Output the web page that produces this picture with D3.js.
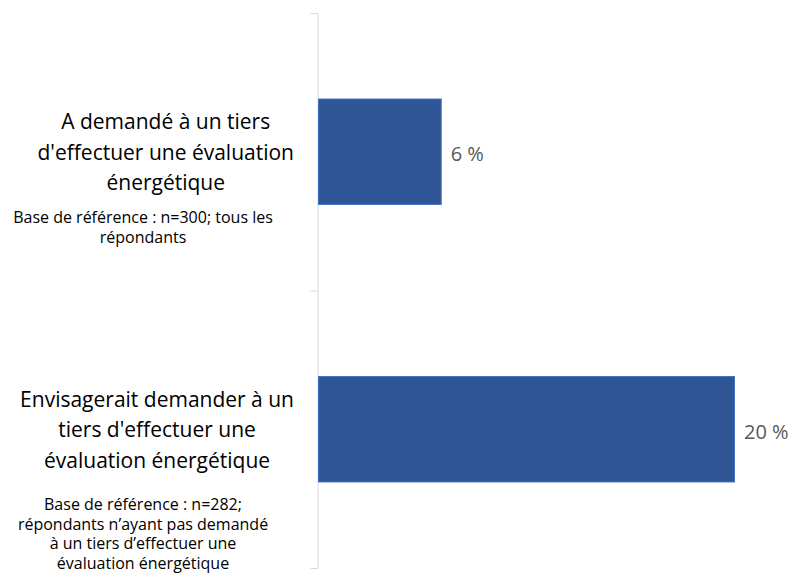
<!DOCTYPE html>
<html>
<head>
<meta charset="utf-8">
<script src="https://cdn.jsdelivr.net/npm/d3@7"></script>
<style>
  body { margin: 0; background: #fff; }
  svg { display: block; font-family: "Open Sans", "Noto Sans", sans-serif; }
</style>
</head>
<body>
<div id="chart"></div>
<script>
// data
var categories = ["tiers", "envisage"];
var values     = [5.9, 20];
var labelLines = [
  ["A demandé à un tiers", "d'effectuer une évaluation", "énergétique"],
  ["Envisagerait demander à un", "tiers d'effectuer une", "évaluation énergétique"]
];
var baseLines = [
  ["Base de référence : n=300; tous les", "répondants"],
  ["Base de référence : n=282;", "répondants n’ayant pas demandé", "à un tiers d’effectuer une", "évaluation énergétique"]
];

// layout
var w = 793, h = 582;
var x0 = 318, yTop = 13, yBottom = 568;
var subOffset = [71, 80.5];   // first base line below band centre

var svg = d3.select("#chart").append("svg")
    .attr("width", w)
    .attr("height", h);

var y = d3.scaleBand()
    .domain(categories)
    .range([yTop, yBottom])
    .paddingInner(0.62)
    .paddingOuter(0.31);

var x = d3.scaleLinear()
    .domain([0, 20])
    .range([x0, 734]);

// axis with ticks between categories
var yEdge = d3.scaleLinear().domain([0, categories.length]).range([yTop, yBottom]);
var axis = svg.append("g")
    .attr("transform", "translate(" + (x0 - 0.5) + ",0)")
    .call(d3.axisLeft(yEdge).tickValues(d3.range(categories.length + 1))
      .tickSize(7).tickSizeOuter(0).tickFormat(""));
axis.selectAll("path, line").attr("stroke", "#d9d9d9");

// bars
svg.selectAll("rect.bar").data(values).enter().append("rect")
   .attr("class", "bar")
   .attr("x", x(0) + 0.5)
   .attr("y", function(d, i) { return y(categories[i]); })
   .attr("width", function(d) { return x(d) - x(0); })
   .attr("height", y.bandwidth())
   .attr("fill", "#2f5597")
   .attr("stroke", "#4472c4")
   .attr("stroke-width", 1);

// value labels
svg.selectAll("text.val").data(values).enter().append("text")
   .attr("class", "val")
   .attr("x", function(d) { return x(d) + 10; })
   .attr("y", function(d, i) { return y(categories[i]) + y.bandwidth() / 2 + 9.5; })
   .attr("fill", "#595959")
   .style("font-size", "20px")
   .text(function(d) { return Math.round(d) + " %"; });

// category labels
categories.forEach(function(c, i) {
  var cy = y(c) + y.bandwidth() / 2;
  var g = svg.append("g");
  var t = g.append("text")
      .attr("fill", "#000")
      .attr("text-anchor", "middle")
      .style("font-size", "21px");
  t.selectAll("tspan").data(labelLines[i]).enter().append("tspan")
   .attr("x", 0)
   .attr("y", function(d, j) { return cy + 8 + (j - 1) * 30.5; })
   .text(function(d) { return d; });
  // centre block so widest line ends 24px left of the axis
  var maxW = d3.max(t.selectAll("tspan").nodes(), function(n) { return n.getComputedTextLength(); });
  t.attr("transform", "translate(" + (x0 - 24 - maxW / 2) + ",0)");

  var s = g.append("text")
      .attr("fill", "#000")
      .attr("text-anchor", "middle")
      .style("font-size", "16px");
  s.selectAll("tspan").data(baseLines[i]).enter().append("tspan")
   .attr("x", 143)
   .attr("y", function(d, j) { return cy + subOffset[i] + j * 19.8; })
   .text(function(d) { return d; });
});
</script>
</body>
</html>
